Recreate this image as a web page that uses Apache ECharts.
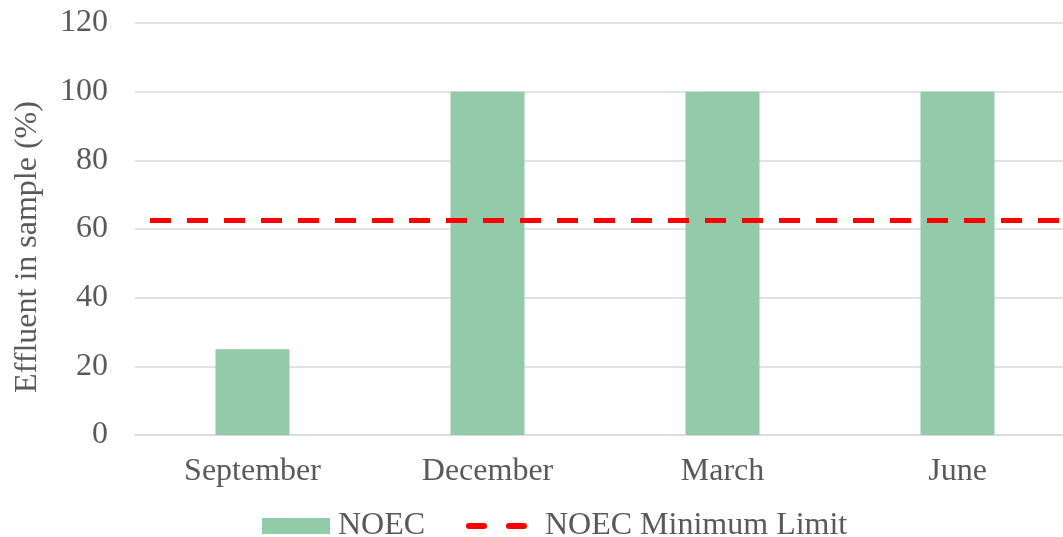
<!DOCTYPE html>
<html><head><meta charset="utf-8">
<script src="https://cdn.jsdelivr.net/npm/echarts@6/dist/echarts.min.js"></script>
<style>html,body{margin:0;padding:0;background:#fff;overflow:hidden}#c{width:1075px;height:537px}</style>
</head><body><div id="c"></div>
<script>
const categories = ['September', 'December', 'March', 'June'];
const noecValues = [25, 100, 100, 100];
const minimumLimit = 62.5;
const yTicks = { min: 0, max: 120, interval: 20 };

const font = '"Liberation Serif", "Times New Roman", serif';
const txt = { fontFamily: font, fontSize: 32, color: '#595959' };
const chart = echarts.init(document.getElementById('c'), null, { renderer: 'canvas' });
chart.setOption({
  animation: false,
  textStyle: { fontFamily: font },
  grid: { left: 135, right: 0, top: 23, height: 412, containLabel: false },
  legend: [
    {
      top: 505, left: 257, itemWidth: 68, itemHeight: 16, itemGap: 8,
      textStyle: Object.assign({ padding: [0, 0, 0, 3] }, txt),
      data: [{ name: 'NOEC', icon: 'rect' }]
    },
    {
      top: 505, left: 461, itemWidth: 61, itemHeight: 6, itemGap: 18,
      textStyle: Object.assign({ padding: [0, 0, 0, 13] }, txt),
      data: [{ name: 'NOEC Minimum Limit', icon: 'path://M3,0h15a3,3 0 0 1 0,6h-15a3,3 0 0 1 0,-6z M43,0h15a3,3 0 0 1 0,6h-15a3,3 0 0 1 0,-6z', itemStyle: { color: '#FF0000' } }]
    }
  ],
  xAxis: {
    type: 'category', data: categories,
    axisLine: { lineStyle: { color: '#d9d9d9', width: 1.5 } },
    axisTick: { show: false },
    axisLabel: Object.assign({ margin: 21 }, txt)
  },
  yAxis: {
    type: 'value', min: yTicks.min, max: yTicks.max, interval: yTicks.interval,
    name: 'Effluent in sample (%)', nameLocation: 'middle', nameGap: 91,
    nameTextStyle: Object.assign({ padding: [0, 36, 0, 0] }, txt),
    axisLine: { show: false }, axisTick: { show: false },
    axisLabel: Object.assign({ margin: 27 }, txt),
    splitLine: { lineStyle: { color: '#d9d9d9', width: 1.5 } }
  },
  series: [
    {
      name: 'NOEC', type: 'bar', data: noecValues, barWidth: '31.5%',
      itemStyle: { color: '#93CAA9' }
    },
    {
      name: 'NOEC Minimum Limit', type: 'line', data: [],
      symbol: 'none',
      itemStyle: { color: '#FF0000' },
      lineStyle: { color: '#FF0000', width: 5, type: [21, 16] },
      markLine: {
        silent: true, symbol: 'none', label: { show: false },
        lineStyle: { color: '#FF0000', width: 5, type: [21, 16], dashOffset: 22 },
        data: [{ yAxis: minimumLimit }]
      },
      z: 5
    }
  ]
});
</script></body></html>
